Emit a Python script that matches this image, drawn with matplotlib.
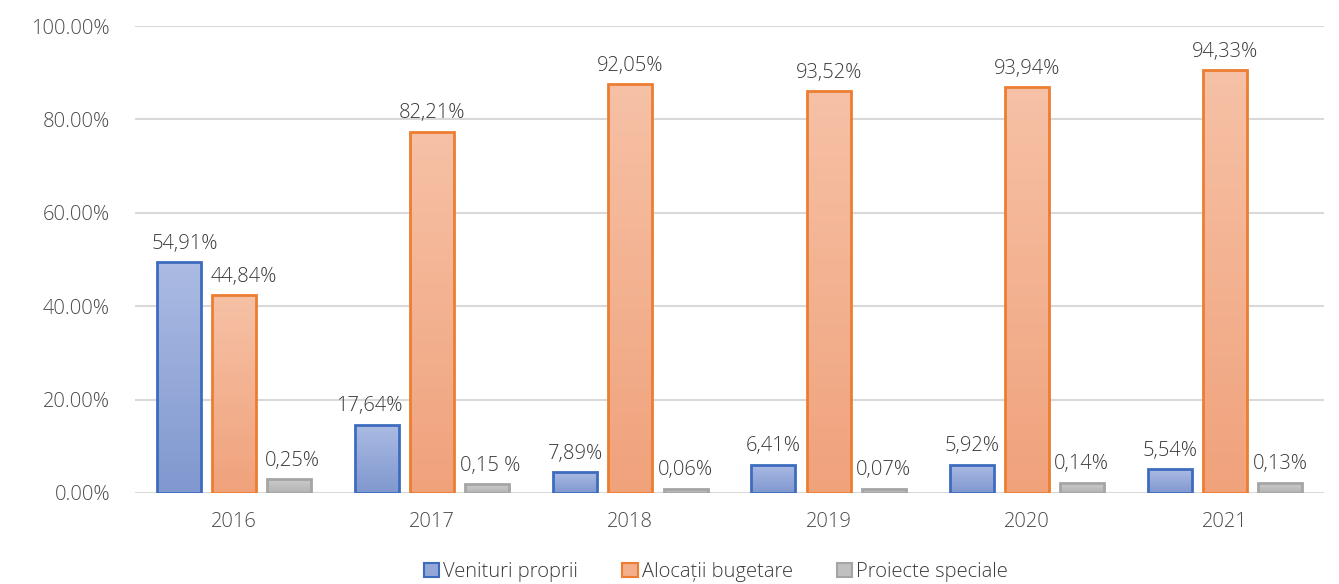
import numpy as np
import matplotlib
matplotlib.use("Agg")
import matplotlib.pyplot as plt
from matplotlib.patches import Patch
from matplotlib.colors import LinearSegmentedColormap

plt.rcParams['font.family'] = ['Open Sans', 'DejaVu Sans']
plt.rcParams['font.weight'] = 'light'

years = ['2016', '2017', '2018', '2019', '2020', '2021']
series = ['Venituri proprii', 'Alocații bugetare', 'Proiecte speciale']

# bar heights as drawn (percent)
venituri = [49.4, 14.6, 4.4, 6.1, 6.1, 5.1]
alocatii = [42.4, 77.4, 87.6, 86.1, 86.9, 90.6]
proiecte = [3.0, 1.9, 0.9, 0.9, 2.2, 2.2]

# data labels as printed
venituri_lbl = ['54,91%', '17,64%', '7,89%', '6,41%', '5,92%', '5,54%']
alocatii_lbl = ['44,84%', '82,21%', '92,05%', '93,52%', '93,94%', '94,33%']
proiecte_lbl = ['0,25%', '0,15 %', '0,06%', '0,07%', '0,14%', '0,13%']

yticks = [0, 20, 40, 60, 80, 100]
ytick_labels = ['0.00%', '20.00%', '40.00%', '60.00%', '80.00%', '100.00%']

W, H = 1339, 584
fig = plt.figure(figsize=(W / 100, H / 100), dpi=100)
ax = fig.add_axes([135 / W, 1 - 493 / H, (1324 - 135) / W, (493 - 26) / H])

edge_cols = ['#3d6cbf', '#ed7d31', '#a5a5a5']
grad = [('#8098cf', '#abbbe3'), ('#f0a27b', '#f6c1a6'), ('#b3b3b3', '#cdcdcd')]
text_col = '#3a3a3a'
tick_col = '#4a4a4a'
fs = 14.5

x = np.arange(len(years))
offs = [-0.278, 0.0, 0.278]
bw = 0.222
data = [venituri, alocatii, proiecte]
labels = [venituri_lbl, alocatii_lbl, proiecte_lbl]
label_dx = [[4, -6, 0, 0, 0, 0], [7, 0, 0, 0, 0, 0], [2, 2, 0, 0, 0, 0]]

gvals = np.linspace(0, 1, 256).reshape(-1, 1)
for i, (vals, lbls) in enumerate(zip(data, labels)):
    cmap = LinearSegmentedColormap.from_list('g%d' % i, [grad[i][0], grad[i][1]])
    bars = ax.bar(x + offs[i], vals, width=bw, facecolor='none',
                  edgecolor=edge_cols[i], linewidth=2.0, zorder=4)
    for j, b in enumerate(bars):
        x0, y0 = b.get_x(), b.get_y()
        w, h = b.get_width(), b.get_height()
        im = ax.imshow(gvals, cmap=cmap, origin='lower', aspect='auto',
                       extent=[x0, x0 + w, y0, y0 + h], zorder=3)
        im.set_clip_path(b)
        ax.annotate(lbls[j], (x0 + w / 2, h), xytext=(label_dx[i][j], 6),
                    textcoords='offset points', ha='center', va='bottom',
                    fontsize=fs, color=text_col, zorder=5)

ax.set_xlim(-0.5, len(years) - 0.5)
ax.set_ylim(0, 100)
ax.set_xticks(x)
ax.set_xticklabels(years)
ax.set_yticks(yticks)
ax.set_yticklabels(ytick_labels)
ax.tick_params(axis='both', length=0, labelsize=fs, colors=tick_col)
ax.tick_params(axis='y', pad=18)
ax.tick_params(axis='x', pad=14)
ax.grid(axis='y', color='#d9d9d9', linewidth=1.5, zorder=0)
ax.set_axisbelow(True)
for s in ax.spines.values():
    s.set_visible(False)

handles = [Patch(facecolor=c, edgecolor=edge_cols[i], linewidth=1.5, label=series[i])
           for i, c in enumerate(['#94a8d8', '#f3ae8a', '#c0c0c0'])]
fig.legend(handles=handles, loc='center', bbox_to_anchor=(716 / W, 1 - 572 / H),
           ncol=3, frameon=False, fontsize=fs, handlelength=0.75, handleheight=0.75,
           handletextpad=0.2, columnspacing=2.2, labelcolor=text_col)

fig.savefig('out.png', dpi=100)
